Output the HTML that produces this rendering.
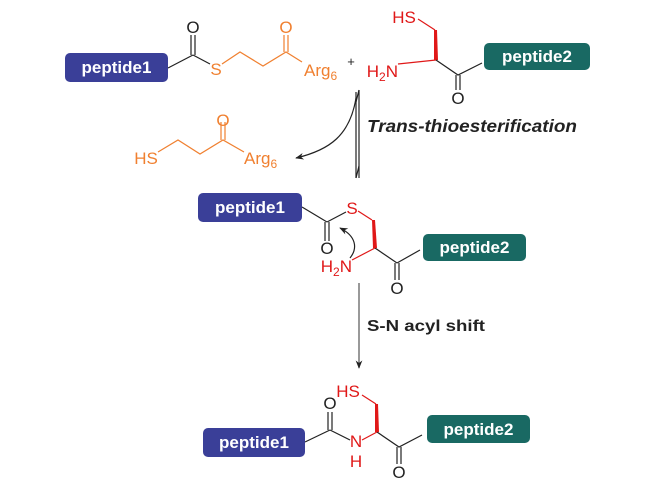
<!DOCTYPE html>
<html><head><meta charset="utf-8"><style>
html,body{margin:0;padding:0;background:#fff;}
svg{display:block;}
text{font-family:"Liberation Sans",Arial,sans-serif;}
</style></head><body>
<svg width="650" height="485" viewBox="0 0 650 485" xmlns="http://www.w3.org/2000/svg">
<defs>
<marker id="ah" viewBox="0 0 10 10" refX="9" refY="5" markerWidth="7" markerHeight="7" orient="auto-start-reverse"><path d="M0,1 L10,5 L0,9 L3,5z" fill="#222"/></marker>
</defs>
<g stroke-width="1.2" fill="none">
<g stroke="#222"><path d="M168,68 L193,55"/><path d="M191,55 V35 M195,55 V35"/><path d="M193,55 L210,64"/></g>
<g stroke="#f08030"><path d="M222,64 L240,52 L263,66 L286,52 L302,62"/><path d="M284,52 V35 M288,52 V35"/></g>
<g stroke="#e01818"><path d="M418,19 L435,30"/><path d="M398,64 L436,60"/></g>
<path d="M434,30 L437,30 L438,60 L434,60z" fill="#e01818"/>
<g stroke="#222"><path d="M436,60 L458,75 L482,63"/><path d="M456,75 V90 M460,75 V90"/></g>
<g stroke="#f08030"><path d="M158,152 L178,140 L200,154 L223,140 L244,152"/><path d="M221,140 V122 M225,140 V122"/></g>
<g stroke="#222"><path d="M356,92 V178"/><path d="M356,178 L359,166"/><path d="M359,178 V90"/><path d="M359,90 L356,102"/>
<path d="M356,98 C350,135 330,150 296,158" marker-end="url(#ah)"/></g>
<g stroke="#222"><path d="M302,207 L327,222"/><path d="M325,222 V241 M329,222 V241"/><path d="M327,222 L346,212"/><path d="M397,263 L420,250"/><path d="M395,263 V280 M399,263 V280"/><path d="M375,248 L397,263"/>
<path d="M350,258 C358,248 356,236 340,228" marker-end="url(#ah)"/></g>
<g stroke="#e01818"><path d="M358,211 L372,220"/><path d="M375,248 L352,260"/></g>
<path d="M372,220 L375,220 L377,248 L373,248z" fill="#e01818"/>
<path d="M359,283 V368" stroke="#555" marker-end="url(#ah)"/>
<g stroke="#222"><path d="M305,442 L330,430"/><path d="M328,430 V412 M332,430 V412"/><path d="M330,430 L350,440"/><path d="M377,432 L399,447 L422,435"/><path d="M397,447 V464 M401,447 V464"/></g>
<g stroke="#e01818"><path d="M362,395 L376,404"/><path d="M362,440 L377,432"/></g>
<path d="M375,404 L378,404 L379,432 L375,432z" fill="#e01818"/>
</g>
<rect x="65" y="53" width="103" height="29" rx="5" fill="#3a3f98"/>
<text x="116.5" y="73" fill="#fff" font-size="17" font-weight="bold" text-anchor="middle">peptide1</text>
<rect x="484" y="43" width="106" height="27" rx="5" fill="#196963"/>
<text x="537" y="62" fill="#fff" font-size="17" font-weight="bold" text-anchor="middle">peptide2</text>
<rect x="198" y="193" width="104" height="29" rx="5" fill="#3a3f98"/>
<text x="250" y="213" fill="#fff" font-size="17" font-weight="bold" text-anchor="middle">peptide1</text>
<rect x="423" y="234" width="103" height="27" rx="5" fill="#196963"/>
<text x="474.5" y="253" fill="#fff" font-size="17" font-weight="bold" text-anchor="middle">peptide2</text>
<rect x="203" y="428" width="102" height="29" rx="5" fill="#3a3f98"/>
<text x="254" y="448" fill="#fff" font-size="17" font-weight="bold" text-anchor="middle">peptide1</text>
<rect x="427" y="415" width="103" height="28" rx="5" fill="#196963"/>
<text x="478.5" y="435" fill="#fff" font-size="17" font-weight="bold" text-anchor="middle">peptide2</text>
<g font-size="17" text-anchor="middle">
<text x="193" y="33" fill="#222">O</text>
<text x="216" y="75" fill="#f08030">S</text>
<text x="286" y="33" fill="#f08030">O</text>
<text x="304" y="76" fill="#f08030" text-anchor="start">Arg<tspan font-size="12" dy="4">6</tspan></text>
<text x="351" y="66" fill="#222" font-size="13">+</text>
<text x="404" y="23" fill="#e01818">HS</text>
<text x="398" y="77" fill="#e01818" text-anchor="end">H<tspan font-size="12" dy="4">2</tspan><tspan dy="-4">N</tspan></text>
<text x="458" y="104" fill="#222">O</text>
<text x="146" y="164" fill="#f08030">HS</text>
<text x="223" y="126" fill="#f08030">O</text>
<text x="244" y="164" fill="#f08030" text-anchor="start">Arg<tspan font-size="12" dy="4">6</tspan></text>
<text x="352" y="214" fill="#e01818">S</text>
<text x="327" y="254" fill="#222">O</text>
<text x="352" y="272" fill="#e01818" text-anchor="end">H<tspan font-size="12" dy="4">2</tspan><tspan dy="-4">N</tspan></text>
<text x="397" y="294" fill="#222">O</text>
<text x="348" y="397" fill="#e01818">HS</text>
<text x="330" y="409" fill="#222">O</text>
<text x="356" y="447" fill="#e01818">N</text>
<text x="356" y="467" fill="#e01818">H</text>
<text x="399" y="478" fill="#222">O</text>
</g>
<text x="367" y="132" font-size="17.5" font-weight="bold" font-style="italic" fill="#222" textLength="210" lengthAdjust="spacingAndGlyphs">Trans-thioesterification</text>
<text x="367" y="331" font-size="16" font-weight="bold" fill="#222" textLength="118" lengthAdjust="spacingAndGlyphs">S-N acyl shift</text>
</svg>
</body></html>
